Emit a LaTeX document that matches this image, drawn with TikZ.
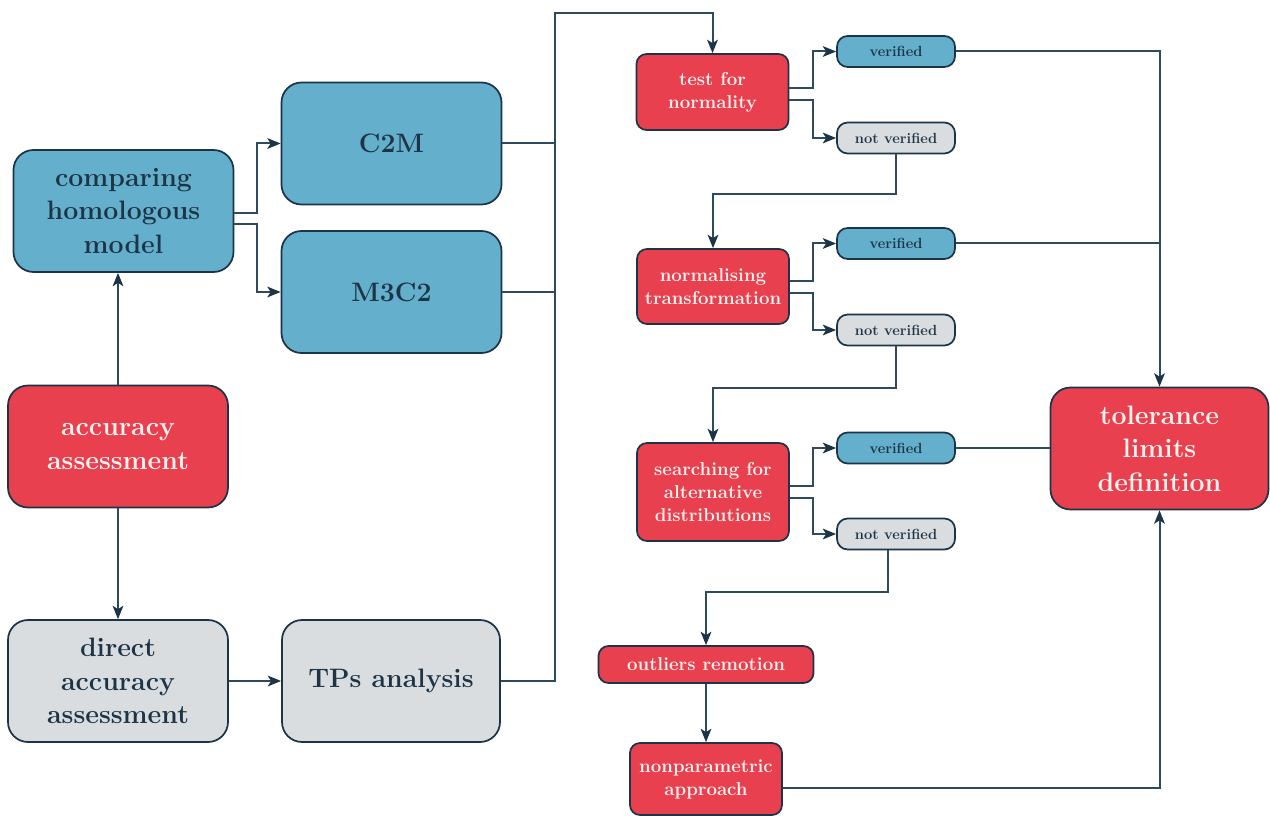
\documentclass[tikz,border=0pt]{standalone}
\usetikzlibrary{arrows.meta,calc}
\definecolor{cblue}{HTML}{63AFCC}
\definecolor{cred}{HTML}{E8404E}
\definecolor{cgray}{HTML}{D9DDE0}
\definecolor{cborder}{HTML}{1D3447}
\definecolor{cline}{HTML}{2E4A5F}
\definecolor{ctext}{HTML}{1E3446}
\definecolor{cwhite}{HTML}{FFF3F0}
\tikzset{
  box/.style={draw=cborder, line width=1.3pt, align=center, inner sep=0pt},
  big/.style={box, minimum width=165pt, minimum height=91.5pt, rounded corners=15pt,
    font=\fontsize{20}{25}\selectfont\bfseries},
  mid/.style={box, minimum width=114pt, minimum height=57pt, rounded corners=7.5pt,
    font=\fontsize{14}{17.3}\selectfont\bfseries},
  small/.style={box, minimum width=88.5pt, minimum height=23.25pt, rounded corners=8pt,
    font=\fontsize{11}{13}\selectfont\bfseries},
  bluef/.style={fill=cblue, text=ctext},
  redf/.style={fill=cred, text=cwhite},
  grayf/.style={fill=cgray, text=ctext},
  conn/.style={draw=cline, line width=1.5pt},
  arr/.style={conn, -{Stealth[length=10pt, width=8pt, inset=2.5pt, color=cborder]}},
}
\begin{document}
\begin{tikzpicture}[x=0.75pt, y=-0.75pt]
\useasboundingbox (0,0) rectangle (1270,816);

% left column
\node[big, bluef] (cmp) at (123.5,211) {comparing\\homologous\\model};
\node[big, bluef] (c2m) at (391.5,143.5) {C2M};
\node[big, bluef] (m3c2) at (391.5,292) {M3C2};
\node[big, redf] (acc) at (118,446.5) {accuracy\\assessment};
\node[big, grayf] (dir) at (118,681) {direct\\accuracy\\assessment};
\node[big, grayf, minimum width=163.5pt] (tps) at (391,681) {TPs analysis};

% middle column
\node[mid, redf] (test) at (712.5,92) {test for\\normality};
\node[mid, redf, minimum height=56.25pt] (norm) at (713,286.5) {normalising\\transformation};
\node[mid, redf, minimum height=73.5pt] (srch) at (713,492) {searching for\\alternative\\distributions};
\node[mid, redf, minimum width=161.25pt, minimum height=27.75pt] (out) at (706,664.5) {outliers remotion};
\node[mid, redf, minimum height=54pt] (np) at (706,779) {nonparametric\\approach};

% small verdict boxes
\node[small, bluef] (v1) at (896,51.5) {verified};
\node[small, grayf] (nv1) at (896,138) {not verified};
\node[small, bluef] (v2) at (896,243.5) {verified};
\node[small, grayf] (nv2) at (896,330) {not verified};
\node[small, bluef] (v3) at (896,448) {verified};
\node[small, grayf] (nv3) at (896,534) {not verified};

% right
\node[big, redf, minimum width=163.5pt] (tol) at (1159.5,448.5) {tolerance\\limits\\definition};

% connectors, left part
\draw[arr] (acc.north) -- (acc.north |- cmp.south);
\draw[arr] (acc.south) -- (dir.north);
\draw[arr] (dir.east) -- (tps.west);
\draw[arr] ($(cmp.east)+(0,2)$) -- ++(23,0) |- (c2m.west);
\draw[arr] ($(cmp.east)+(0,13)$) -- ++(23,0) |- (m3c2.west);
\draw[conn] (c2m.east) -- ++(53,0);
\draw[conn] (m3c2.east) -- ++(53,0);
\coordinate (top) at (555,13);
\draw[arr] (tps.east) -| (top) -| (test.north);

% test branches
\draw[arr] ($(test.east)+(0,-4)$) -- ++(24,0) |- (v1.west);
\draw[arr] ($(test.east)+(0,8)$) -- ++(24,0) |- (nv1.west);
\draw[arr] (nv1.south) -- ++(0,40) -| (norm.north);

\draw[arr] ($(norm.east)+(0,-5.5)$) -- ++(23,0) |- (v2.west);
\draw[arr] ($(norm.east)+(0,6.5)$) -- ++(23,0) |- (nv2.west);
\draw[arr] (nv2.south) -- ++(0,42) -| (srch.north);

\draw[arr] ($(srch.east)+(0,-6)$) -- ++(23,0) |- (v3.west);
\draw[arr] ($(srch.east)+(0,6)$) -- ++(23,0) |- (nv3.west);
\draw[arr] ($(nv3.south)+(-8,0)$) -- ++(0,42) -| (out.north);
\draw[arr] (out.south) -- (np.north);

% to tolerance
\draw[arr] (v1.east) -| (tol.north);
\draw[conn] (v2.east) -- (v2.east -| tol.north);
\draw[conn] (v3.east) -- (v3.east -| tol.west);
\draw[arr] ($(np.east)+(0,9)$) -| (tol.south);
\end{tikzpicture}
\end{document}
